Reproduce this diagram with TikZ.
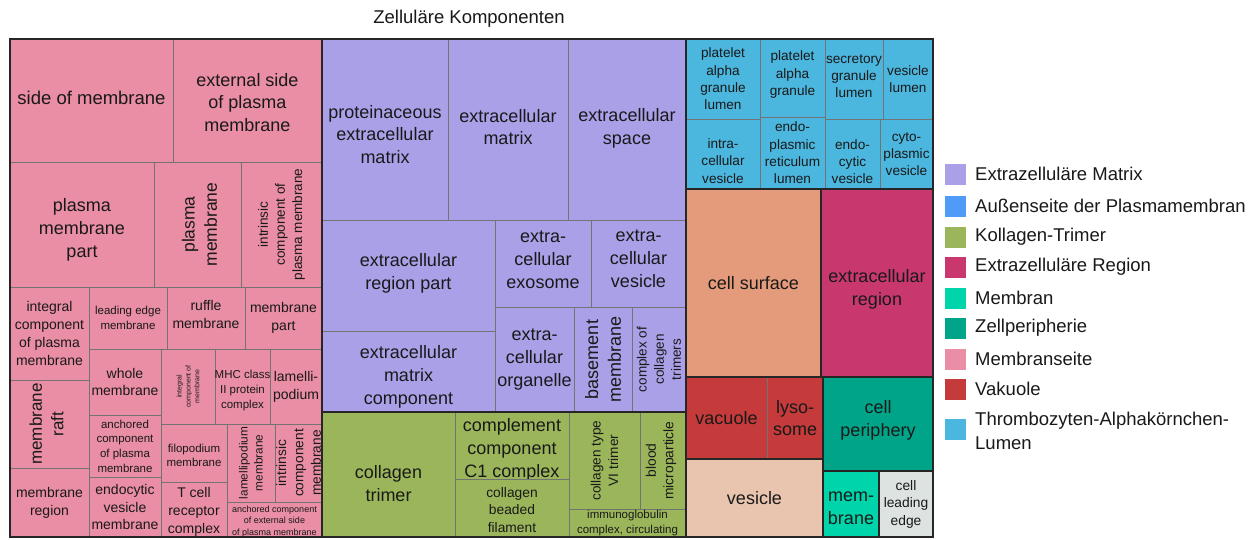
\documentclass[tikz,border=0pt]{standalone}
\usepackage{fontspec}
\setmainfont{Liberation Sans}
\usetikzlibrary{calc}
\definecolor{pinkc}{RGB}{233,142,164}
\definecolor{purplec}{RGB}{170,160,232}
\definecolor{greenc}{RGB}{155,182,90}
\definecolor{bluec}{RGB}{75,182,222}
\definecolor{surfc}{RGB}{227,155,124}
\definecolor{regc}{RGB}{200,56,110}
\definecolor{vacc}{RGB}{197,58,58}
\definecolor{vesc}{RGB}{233,197,175}
\definecolor{perc}{RGB}{0,165,137}
\definecolor{memc}{RGB}{0,212,170}
\definecolor{edgec}{RGB}{221,227,224}
\definecolor{outc}{RGB}{80,155,248}
\definecolor{txtc}{RGB}{25,25,25}
% font size with matching line spacing
\newcommand\sz[1]{\fontsize{#1}{\dimexpr #1pt*127/100\relax}\selectfont}
% one treemap cell: [label offset] name, corner 1, corner 2, fill, size, text
\newcommand\tcell[7][0,0]{%
  \draw[cellline, fill=#5] (#3) rectangle (#4);
  \node[lbl, font=\sz{#6}] (#2) at ($(#3)!0.5!(#4)+(#1)$) {#7};}
\newcommand\rcell[7][0,0]{%
  \draw[cellline, fill=#5] (#3) rectangle (#4);
  \node[lbl, rotate=90, font=\sz{#6}] (#2) at ($(#3)!0.5!(#4)+(#1)$) {#7};}
\begin{document}
\begin{tikzpicture}[x=1pt,y=-1pt,
  cellline/.style={draw=black!55, line width=0.7pt},
  grp/.style={draw=black!85, line width=1.8pt},
  lbl/.style={text=txtc, align=center, inner sep=0pt},
  legsq/.style={minimum width=22pt, minimum height=22pt, inner sep=0pt, draw=white, line width=0.8pt},
  legtx/.style={text=txtc, anchor=west, align=left, inner sep=0pt, font=\sz{18.5}}]
\useasboundingbox[fill=white] (0,0) rectangle (1256,539);

\node[lbl, font=\sz{18.5}] (title) at (469,19) {Zelluläre Komponenten};

% Membranseite
\tcell[0,-3]{p1}{10,39}{173,162}{pinkc}{18.5}{side of membrane}
\tcell[0,2]{p2}{173,39}{322,162}{pinkc}{18}{external side\\of plasma\\membrane}
\tcell[0,5]{p3}{10,162}{154,287}{pinkc}{18}{plasma\\membrane\\part}
\rcell[2,0]{p4}{154,162}{241,287}{pinkc}{17.5}{plasma\\membrane}
\rcell{p5}{241,162}{322,287}{pinkc}{13.5}{intrinsic\\component of\\plasma membrane}
\tcell{p6}{10,287}{89,380}{pinkc}{14}{integral\\component\\of plasma\\membrane}
\tcell{p7}{89,287}{167,349}{pinkc}{11.5}{leading edge\\membrane}
\tcell[0,-3.5]{p8}{167,287}{245,349}{pinkc}{14}{ruffle\\membrane}
\tcell{p9}{245,287}{322,349}{pinkc}{14}{membrane\\part}
\rcell[-3,0]{p10}{10,380}{89,468}{pinkc}{17}{membrane\\raft}
\tcell{p11}{10,468}{89,537}{pinkc}{14}{membrane\\region}
\tcell{p12}{89,349}{161,415}{pinkc}{14}{whole\\membrane}
\tcell{p13}{89,415}{161,477}{pinkc}{11.5}{anchored\\component\\of plasma\\membrane}
\tcell{p14}{89,477}{161,537}{pinkc}{14}{endocytic\\vesicle\\membrane}
\rcell{p15}{161,349}{215,424}{pinkc}{7}{integral\\component of\\membrane}
\tcell[0,4]{p16}{215,349}{270,424}{pinkc}{11.5}{MHC class\\II protein\\complex}
\tcell{p17}{270,349}{322,424}{pinkc}{14}{lamelli-\\podium}
\tcell[0,2.5]{p18}{161,424}{227,482}{pinkc}{11.5}{filopodium\\membrane}
\tcell[0,2.5]{p19}{161,482}{227,537}{pinkc}{14}{T cell\\receptor\\complex}
\rcell{p20}{227,424}{275,502}{pinkc}{11.8}{lamellipodium\\membrane}
\begin{scope}
  \clip (275,424) rectangle (322,502);
  \rcell{p21}{275,424}{322,502}{pinkc}{13.7}{intrinsic\\component\\membrane}
\end{scope}
\tcell[0,2]{p22}{227,502}{322,537}{pinkc}{9}{anchored component\\of external side\\of plasma membrane}

% Extrazelluläre Matrix
\tcell[0,5]{m1}{322,39}{448,220}{purplec}{18}{proteinaceous\\extracellular\\matrix}
\tcell[0,-2.5]{m2}{448,39}{568,220}{purplec}{18}{extracellular\\matrix}
\tcell[0,-1.5]{m3}{568,39}{686,220}{purplec}{18}{extracellular\\space}
\tcell[0,-2.5]{m4}{322,220}{495,331}{purplec}{18}{extracellular\\region part}
\tcell[0,-3.5]{m5}{495,220}{591,307}{purplec}{18}{extra-\\cellular\\exosome}
\tcell[0,-4.5]{m6}{591,220}{686,307}{purplec}{18}{extra-\\cellular\\vesicle}
\tcell[0,5]{m7}{322,331}{495,412}{purplec}{18}{extracellular\\matrix\\component}
\tcell{m8}{495,307}{574,412}{purplec}{18}{extra-\\cellular\\organelle}
\rcell{m9}{574,307}{632,412}{purplec}{18}{basement\\membrane}
\rcell{m10}{632,307}{686,412}{purplec}{13.5}{complex of\\collagen\\trimers}

% Kollagen-Trimer
\tcell[0,9]{g1}{322,412}{455,537}{greenc}{18}{collagen\\trimer}
\tcell[0,4]{g2}{455,412}{569,479}{greenc}{18}{complement\\component\\C1 complex}
\tcell[0,2]{g3}{455,479}{569,537}{greenc}{13.8}{collagen\\beaded\\filament}
\rcell{g4}{569,412}{640,509}{greenc}{13.6}{collagen type\\VI trimer}
\rcell[-2,0]{g5}{640,412}{686,509}{greenc}{13.8}{blood\\microparticle}
\tcell{g6}{569,509}{686,537}{greenc}{11.5}{immunoglobulin\\complex, circulating}

% Thrombozyten-Alphakörnchen-Lumen
\tcell{b1}{686,39}{760,119}{bluec}{13.6}{platelet\\alpha\\granule\\lumen}
\tcell[0,-3.5]{b2}{760,39}{825,117}{bluec}{13.6}{platelet\\alpha\\granule}
\tcell[0,-3]{b3}{825,39}{883,119}{bluec}{13.6}{secretory\\granule\\lumen}
\tcell{b4}{883,39}{933,119}{bluec}{13.6}{vesicle\\lumen}
\tcell[0,7]{b5}{686,119}{760,189}{bluec}{13.6}{intra-\\cellular\\vesicle}
\tcell{b6}{760,117}{825,189}{bluec}{13.6}{endo-\\plasmic\\reticulum\\lumen}
\tcell[0,7.5]{b7}{825,119}{880,189}{bluec}{13.6}{endo-\\cytic\\vesicle}
\tcell{b8}{880,119}{933,189}{bluec}{13.6}{cyto-\\plasmic\\vesicle}

% remaining groups
\tcell{c1}{686,189}{821,377}{surfc}{18}{cell surface}
\tcell[0,6]{c2}{821,189}{933,377}{regc}{18}{extracellular\\region}
\tcell{c3}{686,377}{767,459}{vacc}{18}{vacuole}
\tcell{c4}{767,377}{823,459}{vacc}{18}{lyso-\\some}
\tcell{c5}{686,459}{823,537}{vesc}{18}{vesicle}
\tcell[0,-3.5]{c6}{823,377}{933,471}{perc}{18}{cell\\periphery}
\tcell[0,4.5]{c7}{823,471}{879,537}{memc}{18}{mem-\\brane}
\tcell{c8}{879,471}{933,537}{edgec}{13.8}{cell\\leading\\edge}

% group outlines
\draw[grp] (10,39) rectangle (322,537);
\draw[grp] (322,39) rectangle (686,412);
\draw[grp] (322,412) rectangle (686,537);
\draw[grp] (686,39) rectangle (933,189);
\draw[grp] (686,189) rectangle (821,377);
\draw[grp] (821,189) rectangle (933,377);
\draw[grp] (686,377) rectangle (823,459);
\draw[grp] (686,459) rectangle (823,537);
\draw[grp] (823,377) rectangle (933,471);
\draw[grp] (823,471) rectangle (879,537);
\draw[grp] (879,471) rectangle (933,537);

% legend
\node[legsq, fill=purplec] (l1) at (955,174) {};
\node[legtx] (t1) at (975,174) {Extrazelluläre Matrix};
\node[legsq, fill=outc] (l2) at (955,206) {};
\node[legtx] (t2) at (975,206) {Außenseite der Plasmamembran};
\node[legsq, fill=greenc] (l3) at (955,237) {};
\node[legtx] (t3) at (975,237) {Kollagen-Trimer};
\node[legsq, fill=regc] (l4) at (955,267) {};
\node[legtx] (t4) at (975,267) {Extrazelluläre Region};
\node[legsq, fill=memc] (l5) at (955,298) {};
\node[legtx] (t5) at (975,298) {Membran};
\node[legsq, fill=perc] (l6) at (955,328) {};
\node[legtx] (t6) at (975,328) {Zellperipherie};
\node[legsq, fill=pinkc] (l7) at (955,359) {};
\node[legtx] (t7) at (975,359) {Membranseite};
\node[legsq, fill=vacc] (l8) at (955,389) {};
\node[legtx] (t8) at (975,389) {Vakuole};
\node[legsq, fill=bluec] (l9) at (955,429) {};
\node[legtx] (t9) at (975,431) {Thrombozyten-Alphakörnchen-\\Lumen};
\end{tikzpicture}
\end{document}
